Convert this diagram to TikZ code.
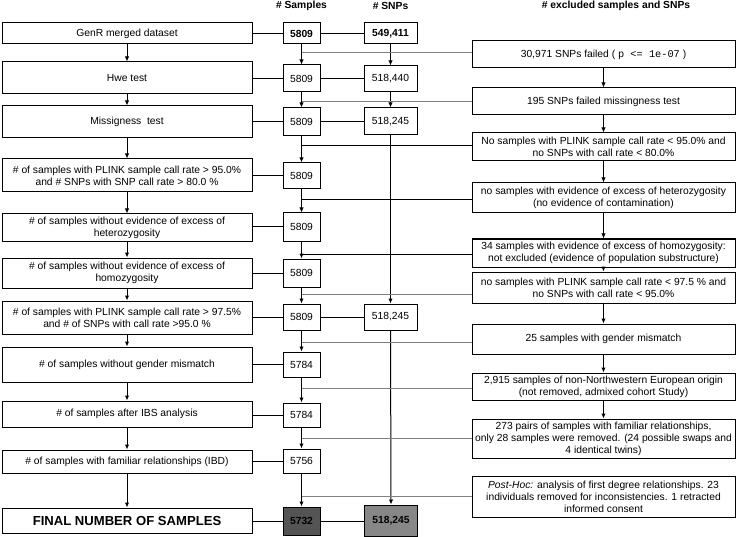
\documentclass[tikz,border=0pt]{standalone}
\usepackage{fontspec}
\setmainfont{Liberation Sans}
\setmonofont{Liberation Mono}
\usetikzlibrary{arrows.meta}
\begin{document}
\begin{tikzpicture}[x=1pt,y=-1pt,
  box/.style={draw,line width=1pt,inner sep=0pt,align=center,font=\fontsize{10.3}{12}\selectfont},
  lbox/.style={box,minimum width=250pt},
  sbox/.style={box,minimum width=37pt},
  pbox/.style={box,minimum width=53pt},
  rbox/.style={box,minimum width=263pt},
  hdr/.style={font=\fontsize{10.3}{12}\selectfont\bfseries,inner sep=0pt},
  arr/.style={-{Latex[length=5pt,width=4.5pt]},line width=1pt},
  bline/.style={line width=1pt},
  gline/.style={draw=black!50,line width=1pt}]
\useasboundingbox (0,0) rectangle (738,537);

% headers
\node[hdr] (hS) at (301.5,6) {\# Samples};
\node[hdr] (hP) at (390.5,6) {\# SNPs};
\node[hdr] (hR) at (616,6) {\# excluded samples and SNPs};

% left column
\node[lbox,minimum height=21pt] (L1) at (127,33.5) {GenR merged dataset};
\node[lbox,minimum height=32pt] (L2) at (127,78) {Hwe test};
\node[lbox,minimum height=32pt] (L3) at (127,122) {Missigness\ \ test};
\node[lbox,minimum height=33pt] (L4) at (127,175.5) {\# of samples with PLINK sample call rate > 95.0\%\\and \# SNPs with SNP call rate > 80.0 \%};
\node[lbox,minimum height=27pt] (L5) at (127,227.5) {\# of samples without evidence of excess of\\heterozygosity};
\node[lbox,minimum height=30pt] (L6) at (127,273) {\# of samples without evidence of excess of\\homozygosity};
\node[lbox,minimum height=33pt] (L7) at (127,317.5) {\# of samples with PLINK sample call rate > 97.5\%\\and \# of SNPs with call rate >95.0 \%};
\node[lbox,minimum height=35pt] (L8) at (127,364.5) {\# of samples without gender mismatch};
\node[lbox,minimum height=26pt] (L9) at (127,414) {\# of samples after IBS analysis};
\node[lbox,minimum height=23pt] (L10) at (127,461.5) {\# of samples with familiar relationships (IBD)};
\node[lbox,minimum height=25pt,font=\fontsize{13.1}{15}\selectfont\bfseries] (L11) at (127,520.5) {FINAL NUMBER OF SAMPLES};

% samples column
\node[sbox,minimum height=21pt,font=\fontsize{10.3}{12}\selectfont\bfseries] (S1) at (301.5,33.5) {5809};
\node[sbox,minimum height=27pt] (S2) at (301.5,78.5) {5809};
\node[sbox,minimum height=28pt] (S3) at (301.5,122) {5809};
\node[sbox,minimum height=26pt] (S4) at (301.5,176) {5809};
\node[sbox,minimum height=28pt] (S5) at (301.5,227) {5809};
\node[sbox,minimum height=28pt] (S6) at (301.5,273) {5809};
\node[sbox,minimum height=26pt] (S7) at (301.5,317) {5809};
\node[sbox,minimum height=25pt] (S8) at (301.5,364.5) {5784};
\node[sbox,minimum height=24pt] (S9) at (301.5,415) {5784};
\node[sbox,minimum height=24pt] (S10) at (301.5,461) {5756};
\node[sbox,minimum height=28pt,fill=black!67,font=\fontsize{10.3}{12}\selectfont\bfseries] (S11) at (301.5,521) {5732};

% SNP column
\node[pbox,minimum height=21pt,font=\fontsize{10.3}{12}\selectfont\bfseries] (P1) at (390.5,33.5) {549,411};
\node[pbox,minimum height=26pt] (P2) at (390.5,79) {518,440};
\node[pbox,minimum height=27pt] (P3) at (390.5,121.5) {518,245};
\node[pbox,minimum height=26pt] (P7) at (390.5,317) {518,245};
\node[pbox,minimum height=31pt,fill=black!47,font=\fontsize{10.3}{12}\selectfont\bfseries] (P11) at (391,520.5) {518,245};

% right column
\node[rbox,minimum height=27pt] (R1) at (603.5,54.5) {30,971 SNPs failed ( \texttt{p <= 1e-07} )};
\node[rbox,minimum height=27pt] (R2) at (603.5,101.5) {195 SNPs failed missingness test};
\node[rbox,minimum height=28pt] (R3) at (603.5,147) {No samples with PLINK sample call rate < 95.0\% and\\no SNPs with call rate < 80.0\%};
\node[rbox,minimum height=30pt] (R4) at (603.5,198) {no samples with evidence of excess of heterozygosity\\(no evidence of contamination)};
\node[rbox,minimum height=28pt] (R5) at (603.5,253) {34 samples with evidence of excess of homozygosity:\\not excluded (evidence of population substructure)};
\node[rbox,minimum height=31pt] (R6) at (603.5,287.5) {no samples with PLINK sample call rate < 97.5 \% and\\no SNPs with call rate < 95.0\%};
\node[rbox,minimum height=30pt] (R7) at (603.5,339) {25 samples with gender mismatch};
\node[rbox,minimum height=27pt] (R8) at (603.5,386.5) {2,915 samples of non-Northwestern European origin\\(not removed, admixed cohort Study)};
\node[rbox,minimum height=39pt] (R9) at (603.5,438.5) {273 pairs of samples with familiar relationships,\\only 28 samples were removed. (24 possible swaps and\\4 identical twins)};
\node[rbox,minimum height=41pt] (R10) at (603.5,496.5) {\textit{Post-Hoc:} analysis of first degree relationships. 23\\individuals removed for inconsistencies. 1 retracted\\informed consent};

% left column arrows
\foreach \a/\b in {L1/L2,L2/L3,L3/L4,L4/L5,L5/L6,L6/L7,L7/L8,L8/L9,L9/L10,L10/L11}
  \draw[arr] (\a.south) -- (\b.north);
% sample column arrows
\foreach \a/\b in {S1/S2,S2/S3,S3/S4,S4/S5,S5/S6,S6/S7,S7/S8,S8/S9,S9/S10,S10/S11}
  \draw[arr] (\a.south) -- (\b.north);
% SNP column arrows
\foreach \a/\b in {P1/P2,P2/P3,P3/P7,P7/P11}
  \draw[arr] (\a.south) -- (\b.north);
% right column arrows
\foreach \a/\b in {R1/R2,R2/R3,R3/R4,R4/R5,R5/R6,R6/R7,R7/R8,R8/R9}
  \draw[arr] (\a.south) -- (\b.north);

% horizontal links
\foreach \i in {1,...,11}
  \draw[bline] (S\i.west) -- (S\i.west -| L\i.east);
\foreach \i in {1,2,3,7,11}
  \draw[bline] (S\i.east) -- (S\i.east -| P\i.west);

% links from exclusions to sample line
\draw[gline] ([yshift=1.5pt]R1.west) -- ([yshift=1.5pt]R1.west -| S1.south);
\draw[gline] (R2.west) -- (R2.west -| S2.south);
\draw[bline] ([yshift=1pt]R3.west) -- ([yshift=1pt]R3.west -| S3.south);
\draw[bline] ([yshift=-2pt]R4.west) -- ([yshift=-2pt]R4.west -| S4.south);
\draw[bline] ([yshift=-1pt]R5.west) -- ([yshift=-1pt]R5.west -| S5.south);
\draw[gline] ([yshift=-6.5pt]R6.west) -- ([yshift=-6.5pt]R6.west -| S6.south);
\draw[gline] ([yshift=-3pt]R7.west) -- ([yshift=-3pt]R7.west -| S7.south);
\draw[gline] ([yshift=-1.5pt]R8.west) -- ([yshift=-1.5pt]R8.west -| S8.south);
\draw[gline] (R9.west) -- (R9.west -| S9.south);
\draw[gline] (R10.west) -- (R10.west -| S10.south);
\end{tikzpicture}
\end{document}
